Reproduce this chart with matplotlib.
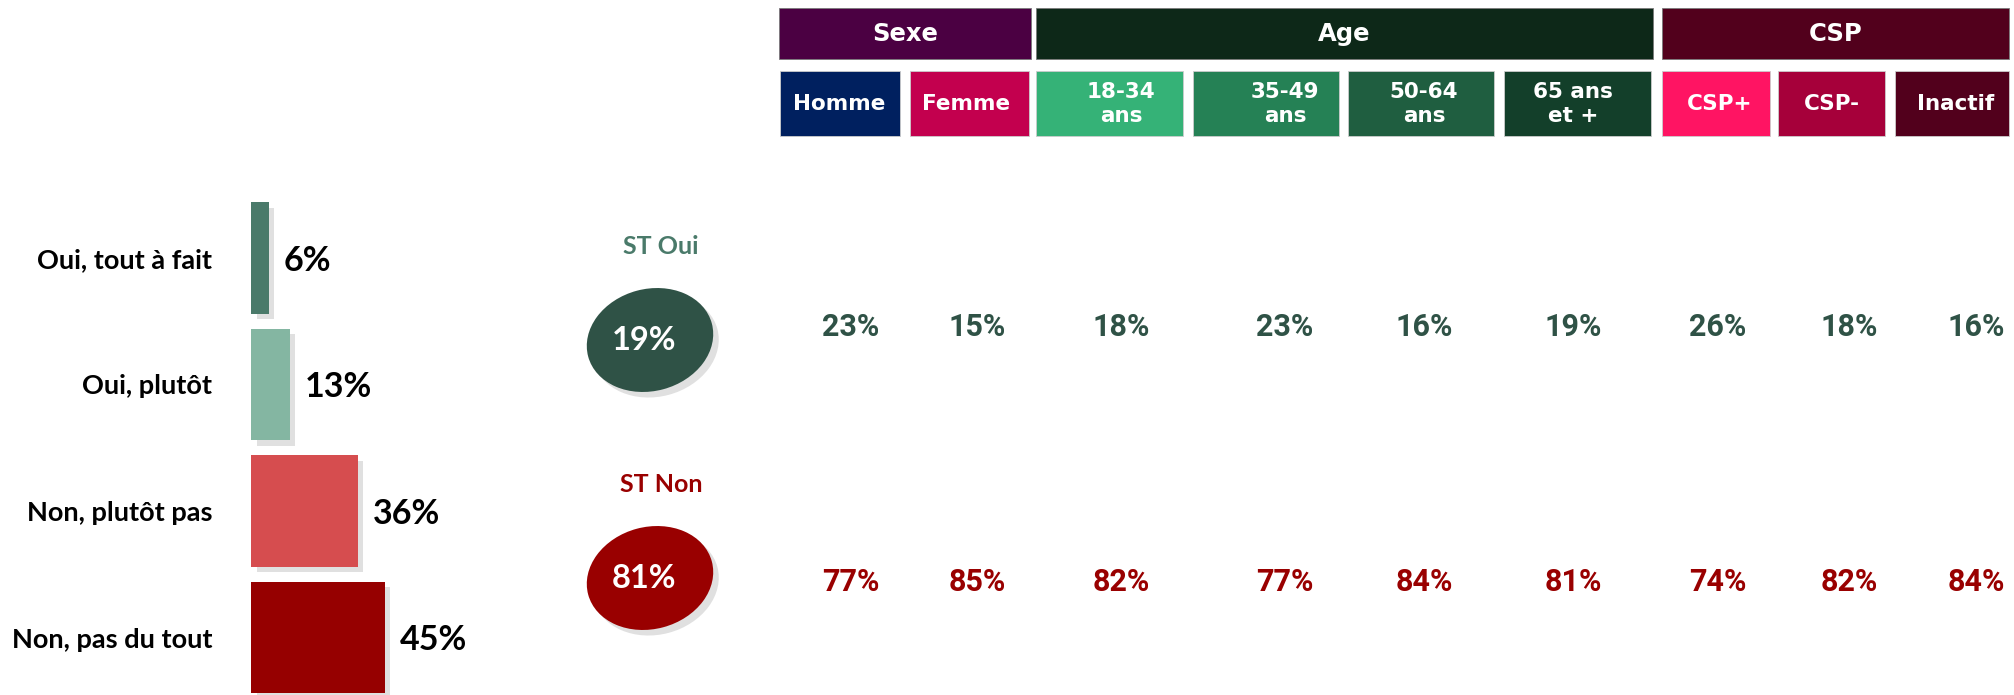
import matplotlib
matplotlib.use("Agg")
import matplotlib.pyplot as plt
from matplotlib.patches import Rectangle, Ellipse
import matplotlib.patheffects as pe

# ---------------- data ----------------
answers = ["Oui, tout à fait", "Oui, plutôt", "Non, plutôt pas", "Non, pas du tout"]
answer_values = [6, 13, 36, 45]
answer_colors = ["#4A7A6A", "#84B6A2", "#D64D4F", "#960000"]

st_labels = ["ST Oui", "ST Non"]
st_values = [19, 81]

groups = ["Sexe", "Age", "CSP"]
group_sizes = [2, 4, 3]
subgroups = ["Homme", "Femme", "18-34\nans", "35-49\nans", "50-64\nans", "65 ans\net +",
             "CSP+", "CSP-", "Inactif"]
oui_values = [23, 15, 18, 23, 16, 19, 26, 18, 16]
non_values = [77, 85, 82, 77, 84, 81, 74, 82, 84]

# ---------------- styles ----------------
W, H = 2015, 695
fig = plt.figure(figsize=(W / 100, H / 100), dpi=100)

GREEN_D = "#2F5246"
RED_D = "#990000"
group_colors = ["#4B0042", "#0D2818", "#52001C"]
sub_colors = ["#00205F", "#C3004E", "#35B277", "#258155", "#1F5E40", "#133F2A",
              "#FF1463", "#A6003A", "#52001C"]
label_font = ["Lato", "DejaVu Sans"]
LW = "bold"
narrow_font = ["Liberation Sans Narrow", "Roboto", "DejaVu Sans"]
head_font = ["DejaVu Sans"]

shadow = [pe.SimplePatchShadow(offset=(4, -4), shadow_rgbFace="#999999", alpha=0.3), pe.Normal()]

# ---------------- left bar chart ----------------
x0, px_per_pct = 251, 2.97
pitch = 126.5
top = 258 - pitch / 2
axb = fig.add_axes([x0 / W, 1 - (top + 4 * pitch) / H, 100 * px_per_pct / W, 4 * pitch / H])
axb.set_xlim(0, 100)
ypos = list(range(len(answers)))
bars = axb.barh(ypos, answer_values, height=0.88, color=answer_colors, zorder=2)
for b in bars:
    b.set_path_effects(shadow)
axb.set_ylim(len(answers) - 0.5, -0.5)
axb.set_yticks(ypos)
axb.set_yticklabels(answers, fontsize=19.5, fontweight=LW, family=label_font)
axb.tick_params(axis="y", length=0, pad=28)
axb.set_xticks([])
for s in axb.spines.values():
    s.set_visible(False)
axb.patch.set_alpha(0)
for y, v in zip(ypos, answer_values):
    axb.annotate(f"{v}%", (v, y), xytext=(11, -2), textcoords="offset points",
                 ha="left", va="center", fontsize=24.5, fontweight=LW, family=label_font,
                 color="black")

# ---------------- overlay (pixel coordinates) ----------------
ax = fig.add_axes([0, 0, 1, 1])
ax.set_xlim(0, W)
ax.set_ylim(H, 0)
ax.axis("off")
ax.patch.set_alpha(0)

# ST ellipses
st_colors = [GREEN_D, RED_D]
st_title_colors = ["#4A7A6A", RED_D]
st_title_y = [247, 485]
st_ell_y = [340, 578]
for lab, v, c, tc, ty, ey in zip(st_labels, st_values, st_colors, st_title_colors, st_title_y, st_ell_y):
    ax.text(661, ty, lab, ha="center", va="center", fontsize=18, fontweight=LW,
            family=label_font, color=tc)
    e = Ellipse((650, ey), 128, 102, angle=-15, facecolor=c, edgecolor="none", zorder=3)
    e.set_path_effects(shadow)
    ax.add_patch(e)
    ax.text(644, ey, f"{v}%", ha="center", va="center", fontsize=23.5, fontweight=LW,
            family=label_font, color="white", zorder=4)

# header boxes
sub_x = [(780, 900), (910, 1029), (1036, 1183), (1193, 1339), (1348, 1494), (1504, 1651),
         (1662, 1770), (1778, 1885), (1895, 2009)]
group_x = [(779, 1031), (1036, 1653), (1662, 2009)]
text_x = [839, 966, 1121, 1285, 1424, 1573, 1720, 1832, 1956]
val_x = [851, 977, 1121, 1285, 1424, 1573, 1718, 1849, 1976]

for g, (a, b), c in zip(groups, group_x, group_colors):
    ax.add_patch(Rectangle((a, 8), b - a, 51, facecolor=c, edgecolor="#7a7a7a", lw=0.6))
    ax.text((a + b) / 2, 34, g, ha="center", va="center", color="white",
            fontsize=17.5, fontweight="bold", family=head_font)

for s, (a, b), c, tx in zip(subgroups, sub_x, sub_colors, text_x):
    ax.add_patch(Rectangle((a, 71), b - a, 65, facecolor=c, edgecolor="#cccccc", lw=0.6))
    ax.text(tx, 104, s, ha="center", va="center", color="white", fontsize=15.5,
            fontweight="bold", family=head_font, linespacing=1.25)

for vx, vo, vn in zip(val_x, oui_values, non_values):
    ax.text(vx, 327, f"{vo}%", ha="center", va="center", color=GREEN_D, fontsize=22,
            fontweight="bold", family=narrow_font)
    ax.text(vx, 582, f"{vn}%", ha="center", va="center", color=RED_D, fontsize=22,
            fontweight="bold", family=narrow_font)

fig.savefig("out.png", dpi=100)
